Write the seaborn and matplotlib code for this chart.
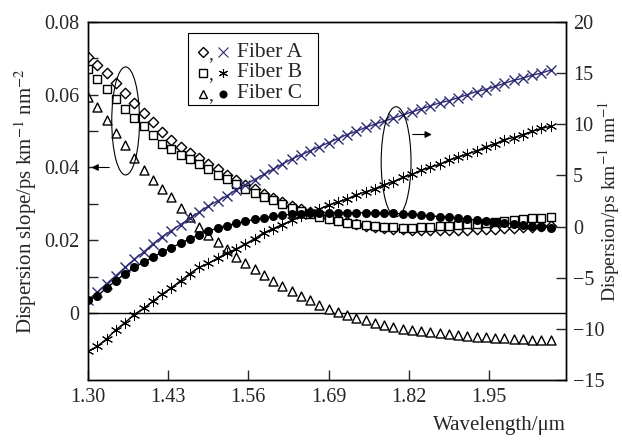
import numpy as np
import pandas as pd
import seaborn as sns
from matplotlib import pyplot as plt
from matplotlib.patches import Ellipse, Rectangle

# wavelength grid (um)
wavelength = [1.300, 1.315, 1.330, 1.345, 1.360, 1.375, 1.390, 1.405, 1.420, 1.435,
              1.450, 1.465, 1.480, 1.495, 1.510, 1.525, 1.540, 1.555, 1.570, 1.585,
              1.600, 1.615, 1.630, 1.645, 1.660, 1.675, 1.690, 1.705, 1.720, 1.735,
              1.750, 1.765, 1.780, 1.795, 1.810, 1.825, 1.840, 1.855, 1.870, 1.885,
              1.900, 1.915, 1.930, 1.945, 1.960, 1.975, 1.990, 2.005, 2.020, 2.035,
              2.050]

# dispersion slope, ps km^-1 nm^-2 (left axis)
slope_a = [0.0705, 0.0683, 0.0660, 0.0632, 0.0605, 0.0578, 0.0550, 0.0524, 0.0498, 0.0476,
           0.0455, 0.0440, 0.0425, 0.0410, 0.0395, 0.0380, 0.0365, 0.0352, 0.0340, 0.0327,
           0.0315, 0.0305, 0.0295, 0.0286, 0.0277, 0.0269, 0.0262, 0.0256, 0.0250, 0.0245,
           0.0240, 0.0237, 0.0235, 0.0232, 0.0230, 0.0229, 0.0228, 0.0228, 0.0228, 0.0228,
           0.0228, 0.0229, 0.0230, 0.0231, 0.0232, 0.0234, 0.0235, 0.0236, 0.0237, 0.0238,
           0.0240]
slope_b = [0.0670, 0.0642, 0.0615, 0.0587, 0.0560, 0.0537, 0.0515, 0.0490, 0.0465, 0.0450,
           0.0435, 0.0422, 0.0410, 0.0395, 0.0380, 0.0367, 0.0355, 0.0342, 0.0330, 0.0320,
           0.0310, 0.0300, 0.0290, 0.0281, 0.0272, 0.0265, 0.0258, 0.0253, 0.0248, 0.0244,
           0.0241, 0.0239, 0.0237, 0.0236, 0.0235, 0.0235, 0.0236, 0.0237, 0.0238, 0.0240,
           0.0242, 0.0244, 0.0246, 0.0248, 0.0251, 0.0253, 0.0256, 0.0258, 0.0260, 0.0262,
           0.0264]
slope_c = [0.0595, 0.0565, 0.0530, 0.0495, 0.0462, 0.0426, 0.0393, 0.0365, 0.0340, 0.0318,
           0.0290, 0.0264, 0.0237, 0.0215, 0.0195, 0.0175, 0.0155, 0.0138, 0.0122, 0.0104,
           0.0087, 0.0073, 0.0060, 0.0047, 0.0035, 0.0023, 0.0012, 0.0002, -0.0006, -0.0013,
           -0.0020, -0.0027, -0.0034, -0.0039, -0.0043, -0.0047, -0.0050, -0.0053, -0.0056, -0.0058,
           -0.0061, -0.0063, -0.0065, -0.0067, -0.0068, -0.0070, -0.0071, -0.0072, -0.0073, -0.0074,
           -0.0074]

# dispersion, ps km^-1 nm^-1 (right axis)
disp_a = [-7.2, -6.4, -5.6, -4.8, -4.0, -3.2, -2.5, -1.7, -1.0, -0.4,
          0.2, 0.8, 1.4, 2.0, 2.5, 3.0, 3.6, 4.1, 4.6, 5.1,
          5.6, 6.1, 6.6, 7.0, 7.4, 7.8, 8.2, 8.6, 9.0, 9.3,
          9.7, 10.0, 10.3, 10.6, 10.9, 11.2, 11.5, 11.8, 12.1, 12.3,
          12.6, 12.9, 13.2, 13.4, 13.7, 14.0, 14.3, 14.5, 14.8, 15.0,
          15.3]
disp_b = [-12.2, -11.7, -11.0, -10.1, -9.4, -8.6, -8.0, -7.3, -6.6, -6.0,
          -5.3, -4.6, -4.0, -3.6, -3.1, -2.6, -2.2, -1.7, -1.2, -0.6,
          -0.2, 0.2, 0.6, 1.0, 1.4, 1.7, 2.1, 2.4, 2.7, 3.1,
          3.4, 3.7, 4.1, 4.4, 4.8, 5.1, 5.5, 5.8, 6.1, 6.5,
          6.8, 7.1, 7.4, 7.8, 8.1, 8.5, 8.7, 9.0, 9.3, 9.6,
          9.8]
disp_c = [-7.2, -6.8, -6.0, -5.3, -4.6, -4.0, -3.5, -3.0, -2.5, -2.05,
          -1.65, -1.2, -0.8, -0.45, -0.15, 0.1, 0.3, 0.5, 0.7, 0.85,
          1.0, 1.1, 1.2, 1.25, 1.3, 1.33, 1.35, 1.35, 1.35, 1.35,
          1.35, 1.33, 1.3, 1.28, 1.25, 1.18, 1.1, 1.05, 0.97, 0.9,
          0.82, 0.72, 0.63, 0.55, 0.45, 0.35, 0.25, 0.12, 0.02, -0.05,
          -0.1]

x_ticks = [1.30, 1.43, 1.56, 1.69, 1.82, 1.95]
navy = '#2d2c74'


def main():
    sns.set_style('ticks')
    plt.rcParams['font.family'] = ['Liberation Serif', 'DejaVu Serif']
    plt.rcParams['mathtext.fontset'] = 'stix'

    df = pd.DataFrame({'wl': wavelength, 'sa': slope_a, 'sb': slope_b, 'sc': slope_c,
                       'da': disp_a, 'db': disp_b, 'dc': disp_c})

    fig = plt.figure(figsize=(6.22, 4.40), dpi=100)
    ax = fig.add_axes([0.1415, 0.1364, 0.7685, 0.8136])
    ax2 = ax.twinx()

    # slope curves, open markers
    sns.scatterplot(data=df, x='wl', y='sa', ax=ax, marker='D', s=28, facecolor='white',
                    edgecolor='black', linewidth=1.0, zorder=3)
    sns.scatterplot(data=df, x='wl', y='sb', ax=ax, marker='s', s=38, facecolor='white',
                    edgecolor='black', linewidth=1.0, zorder=3)
    sns.scatterplot(data=df, x='wl', y='sc', ax=ax, marker='^', s=42, facecolor='white',
                    edgecolor='black', linewidth=1.0, zorder=3)
    ax.axhline(0, color='black', lw=1.0, zorder=1)

    # dispersion curves
    sns.lineplot(data=df, x='wl', y='da', ax=ax2, color=navy, lw=1.0, marker='x',
                 markersize=7, markeredgewidth=1.0, markeredgecolor=navy)
    sns.lineplot(data=df, x='wl', y='db', ax=ax2, color='black', lw=1.0, marker=(6, 2, 0),
                 markersize=8, markeredgewidth=0.7, markeredgecolor='black')
    sns.lineplot(data=df, x='wl', y='dc', ax=ax2, color='black', lw=1.0, marker='o',
                 markersize=6.5, markeredgewidth=0, markerfacecolor='black')

    ax.set_xlim(1.30, 2.075)
    ax.set_ylim(-0.01842, 0.08)
    ax2.set_ylim(-15, 20)

    ax.set_xticks(x_ticks)
    ax.set_xticklabels(['%.2f' % t for t in x_ticks])
    ax.set_yticks([0, 0.02, 0.04, 0.06, 0.08])
    ax.set_yticklabels(['0', '0.02', '0.04', '0.06', '0.08'])
    ax.set_yticks([0.01, 0.03, 0.05, 0.07], minor=True)
    ax2.set_yticks([-15, -10, -5, 0, 5, 10, 15, 20])

    ax.tick_params(axis='both', which='both', direction='in', length=7, width=1.0,
                   labelsize=14.5, pad=6)
    ax2.tick_params(axis='y', direction='in', length=7, width=1.0, labelsize=14.5, pad=5)
    for a in (ax, ax2):
        for sp in a.spines.values():
            sp.set_linewidth(1.0)
            sp.set_color('black')

    ax.set_xlabel('Wavelength/\u03bcm', fontsize=15, loc='right', labelpad=6)
    ax.set_ylabel('Dispersion slope/ps km$^{-1}$ nm$^{-2}$', fontsize=15, labelpad=4)
    ax2.set_ylabel('Dispersion/ps km$^{-1}$ nm$^{-1}$', fontsize=14, labelpad=-6)

    # ellipses and arrows pointing to the axes
    ax.add_patch(Ellipse((1.361, 0.0528), 0.045, 0.0297, fill=False, lw=0.8,
                         edgecolor='black', zorder=4))
    ax.annotate('', xy=(1.301, 0.04), xytext=(1.339, 0.04),
                arrowprops=dict(arrowstyle='-|>', color='black', lw=0.8, mutation_scale=10))
    ax2.add_patch(Ellipse((1.7995, 6.34), 0.0484, 10.75, fill=False, lw=0.8,
                          edgecolor='black', zorder=4))
    ax2.annotate('', xy=(1.862, 9.0), xytext=(1.822, 9.0),
                 arrowprops=dict(arrowstyle='-|>', color='black', lw=0.8, mutation_scale=10))

    # legend box drawn by hand to get the "marker, marker Fiber X" layout
    ax2.add_patch(Rectangle((0.209, 0.768), 0.272, 0.201, transform=ax2.transAxes,
                            fill=True, facecolor='white', edgecolor='black', lw=0.8, zorder=5))
    rows = [(0.915, 'D', 'x', 'Fiber A', navy), (0.858, 's', (6, 2, 0), 'Fiber B', 'black'),
            (0.800, '^', 'o', 'Fiber C', 'black')]
    for y, m1, m2, label, c2 in rows:
        ax2.plot([0.240], [y], transform=ax2.transAxes, marker=m1, ms=5.5 if m1 == 'D' else 6,
                 mfc='white', mec='black', mew=1.0, ls='none', zorder=6, clip_on=False)
        ax2.text(0.257, y - 0.006, ',', transform=ax2.transAxes, fontsize=14, ha='center',
                 va='center', zorder=6)
        ax2.plot([0.282], [y], transform=ax2.transAxes, marker=m2, ms=6.5 if m2 != 'o' else 5,
                 mfc=c2, mec=c2, mew=0.8, ls='none', zorder=6, clip_on=False)
        ax2.text(0.312, y, label, transform=ax2.transAxes, fontsize=15.5, ha='left',
                 va='center', zorder=6)

    fig.savefig('out.png', dpi=100)


if __name__ == '__main__':
    main()
